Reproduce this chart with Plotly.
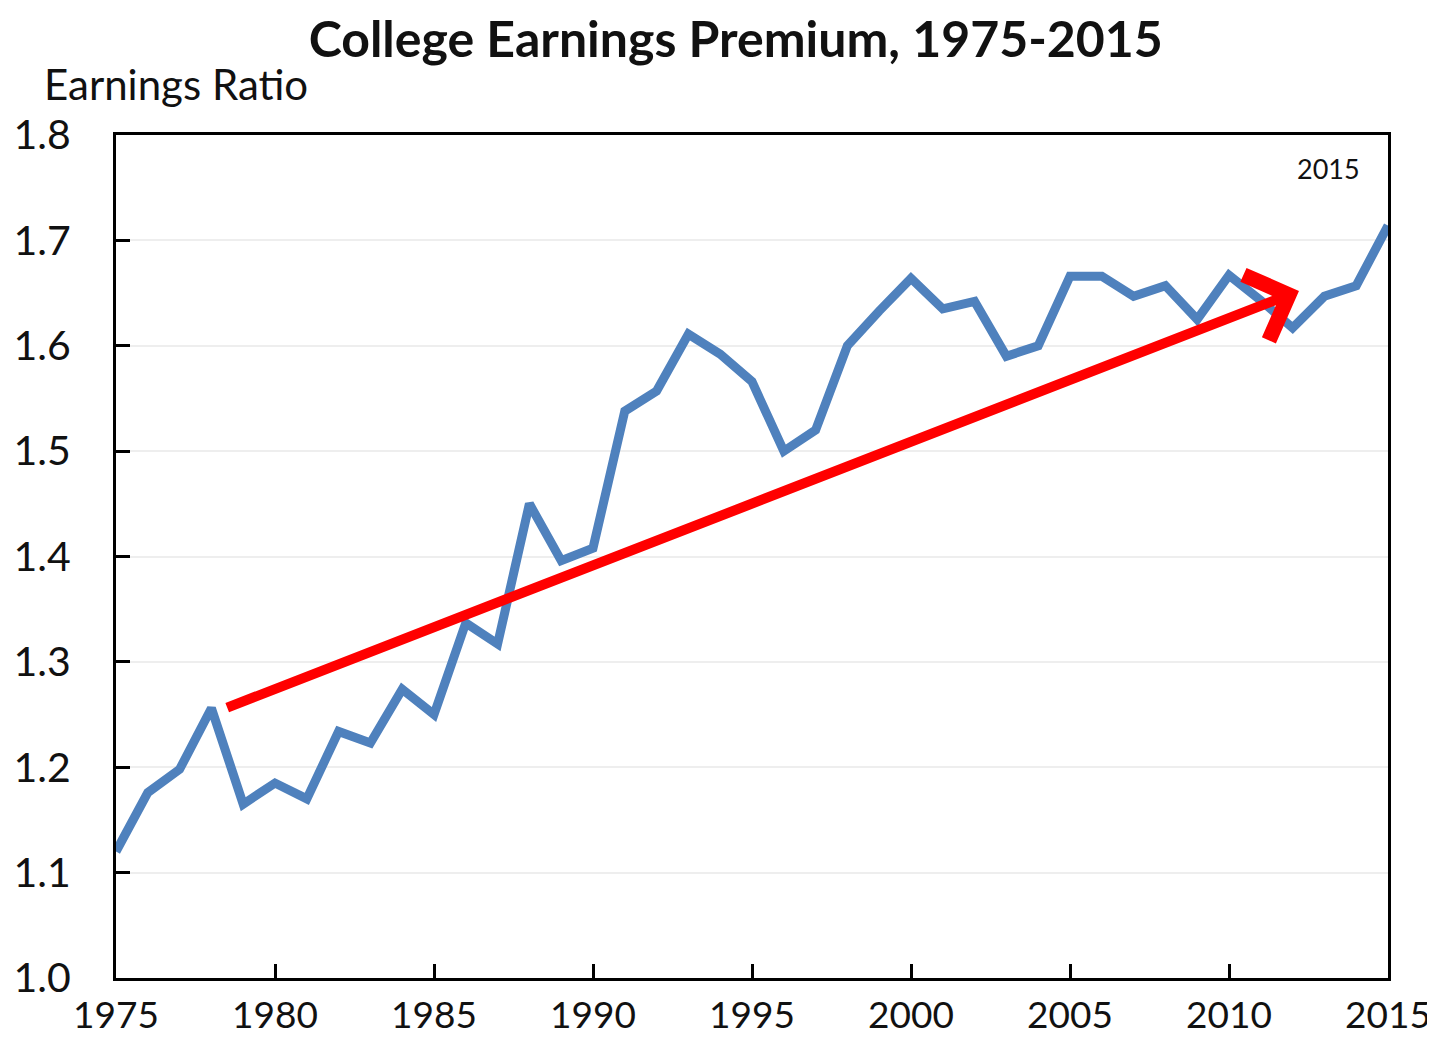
import plotly.graph_objects as go

# College earnings premium (earnings ratio)
years = list(range(1975, 2016))
ratio = [1.12, 1.176, 1.198, 1.256, 1.165, 1.185, 1.17, 1.234, 1.223, 1.274,
         1.25, 1.337, 1.317, 1.45, 1.396, 1.408, 1.538, 1.557, 1.611, 1.592,
         1.566, 1.50, 1.52, 1.60, 1.633, 1.664, 1.635, 1.642, 1.59, 1.60,
         1.666, 1.666, 1.647, 1.657, 1.625, 1.667, 1.643, 1.617, 1.647, 1.657,
         1.714]

# trend arrow: tail and head in data units
arrow_tail = (1978.45, 1.256)
arrow_head = (2012.2, 1.652)

x_ticks = [1975, 1980, 1985, 1990, 1995, 2000, 2005, 2010, 2015]
y_ticks = [1.0, 1.1, 1.2, 1.3, 1.4, 1.5, 1.6, 1.7, 1.8]

FONT = 'Lato'

fig = go.Figure()

fig.add_trace(go.Scatter(
    x=years,
    y=ratio,
    mode='lines',
    line=dict(color='#4f81bd', width=9),
    showlegend=False,
))

# red trend arrow
fig.add_annotation(
    x=arrow_head[0], y=arrow_head[1],
    ax=arrow_tail[0], ay=arrow_tail[1],
    xref='x', yref='y', axref='x', ayref='y',
    text='', showarrow=True,
    arrowhead=4, arrowsize=1.35, arrowwidth=10,
    arrowcolor='#ff0000', standoff=0,
)

fig.add_annotation(
    text='Earnings Ratio', xref='paper', yref='paper',
    x=-0.058, y=1.06, xanchor='left', yanchor='middle',
    showarrow=False, font=dict(family=FONT, size=42, color='#111111'),
)

fig.add_annotation(
    text='2015', xref='paper', yref='paper',
    x=0.953, y=0.96, xanchor='center', yanchor='middle',
    showarrow=False, font=dict(family=FONT, size=27, color='#111111'),
)

fig.update_xaxes(
    range=[1975, 2015],
    tickvals=x_ticks,
    ticks='inside', ticklen=14, tickwidth=3, tickcolor='black',
    showline=True, linewidth=3, linecolor='black', mirror=True,
    showgrid=False, zeroline=False, automargin=False,
    ticklabelstandoff=3,
    tickfont=dict(family=FONT, size=37, color='#111111'),
)

fig.update_yaxes(
    range=[1.0, 1.8],
    tickvals=y_ticks,
    tickformat='.1f',
    ticks='inside', ticklen=14, tickwidth=3, tickcolor='black',
    showline=True, linewidth=3, linecolor='black', mirror=True,
    showgrid=True, gridcolor='#eeeeee', gridwidth=2,
    zeroline=False, automargin=False,
    ticklabelstandoff=34,
    tickfont=dict(family=FONT, size=41, color='#111111'),
)

fig.update_layout(
    title=dict(
        text='<b>College Earnings Premium, 1975-2015</b>',
        x=0.51, xanchor='center', y=0.969, yanchor='middle',
        font=dict(family=FONT, size=50, color='#111111'),
    ),
    width=1427, height=1032,
    margin=dict(l=108, r=47, t=127, b=62),
    plot_bgcolor='white',
    paper_bgcolor='white',
)

fig.write_html("out.html")
